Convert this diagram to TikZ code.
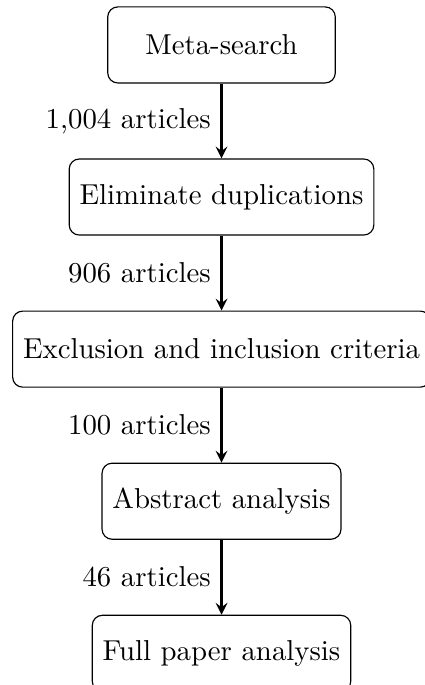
\documentclass[tikz,border=0pt]{standalone}
\usetikzlibrary{positioning,arrows}

\tikzset{every picture/.style={line width=0.4pt}}
\tikzset{stagebox/.style={draw, rounded corners=3.5pt, minimum width=79pt, minimum height=26.4pt, inner sep=3.6pt}}
\tikzset{flowline/.style={thick, -stealth}}

\begin{document}
\begin{tikzpicture}[node distance=26pt]
	%set diagram frame, clipped at right and bottom like the source
	\useasboundingbox (-76.9pt,15.6pt) rectangle (70.3pt,-222.2pt);

	% Text Node
	\node [stagebox] (search) at (0,0) {Meta-search};
	% Text Node
	\node [stagebox, below=of search] (dupl) {Eliminate duplications};
	% Text Node
	\node [stagebox, below=of dupl] (criteria) {Exclusion and inclusion criteria};
	% Text Node
	\node [stagebox, below=of criteria] (abstr) {Abstract analysis};
	% Text Node
	\node [stagebox, below=of abstr] (paper) {Full paper analysis};

	% Connection
	\draw [flowline] (search) -- node [midway, left] {1,004 articles} (dupl);
	% Connection
	\draw [flowline] (dupl) -- node [midway, left] {906 articles} (criteria);
	% Connection
	\draw [flowline] (criteria) -- node [midway, left] {100 articles} (abstr);
	% Connection
	\draw [flowline] (abstr) -- node [midway, left] {46 articles} (paper);

\end{tikzpicture}
\end{document}
